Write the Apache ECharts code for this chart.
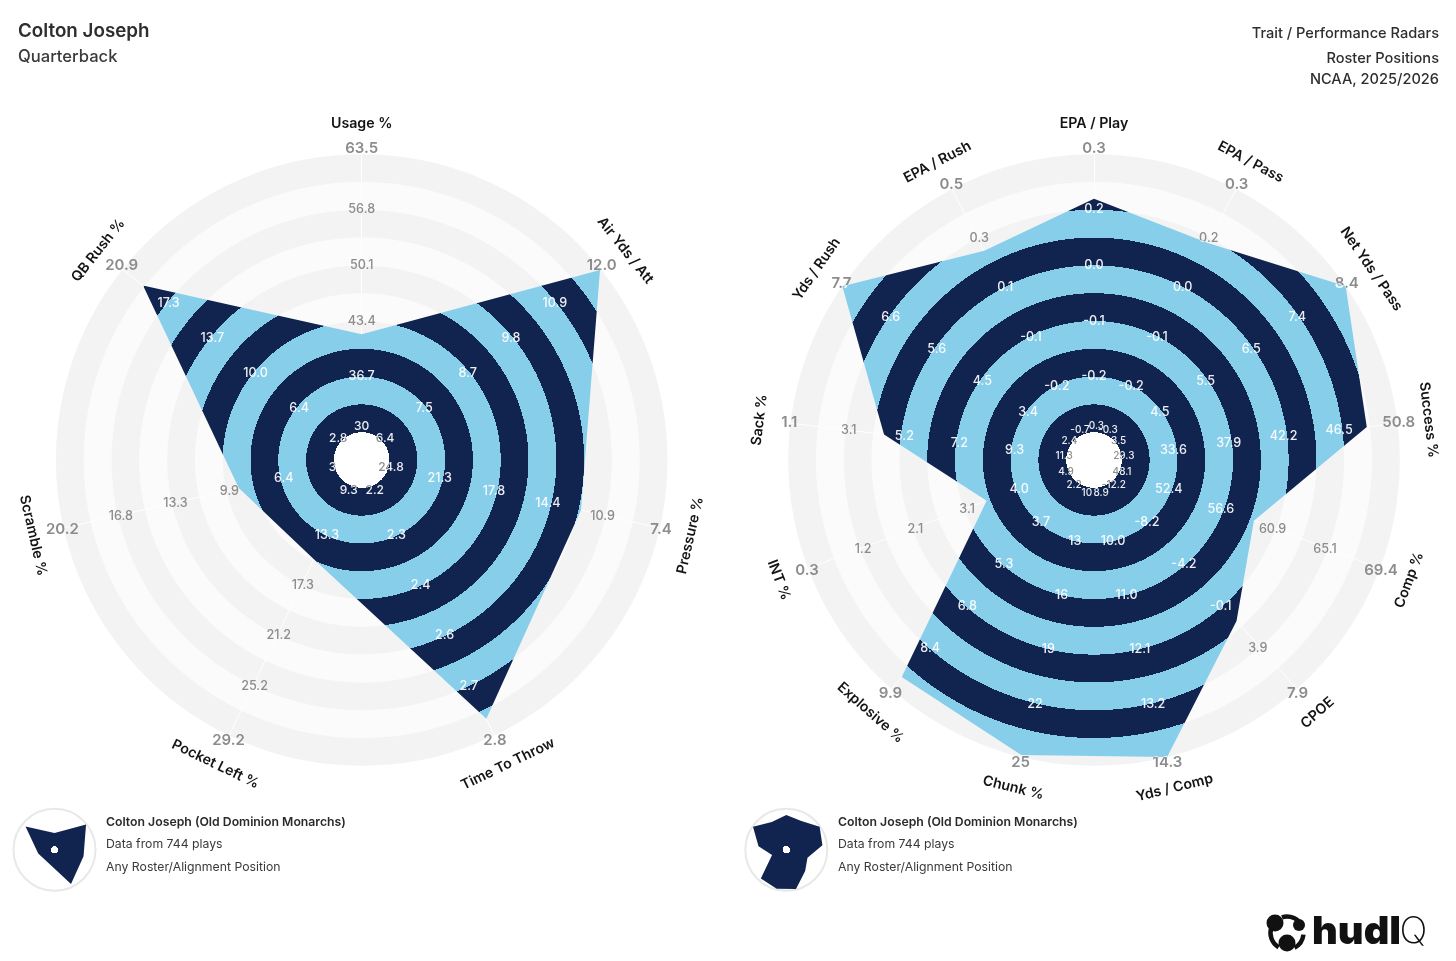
<!DOCTYPE html>
<html><head><meta charset="utf-8">
<style>html,body{margin:0;padding:0;background:#fff}#c{width:1456px;height:961px}</style>
<script src="https://cdn.jsdelivr.net/npm/echarts@6/dist/echarts.min.js"></script>
</head><body><div id="c"></div>
<script>
const leftNames = ['Usage %','Air Yds / Att','Pressure %','Time To Throw','Pocket Left %','Scramble %','QB Rush %'];
const leftTicks = [
  ['30','36.7','43.4','50.1','56.8','63.5'],
  ['6.4','7.5','8.7','9.8','10.9','12.0'],
  ['24.8','21.3','17.8','14.4','10.9','7.4'],
  ['2.2','2.3','2.4','2.6','2.7','2.8'],
  ['9.3','13.3','17.3','21.2','25.2','29.2'],
  ['3','6.4','9.9','13.3','16.8','20.2'],
  ['2.8','6.4','10.0','13.7','17.3','20.9']
];
const leftValues = [41.8, 11.98, 12.46, 2.76, 15.2, 9.08, 19.2];

const rightNames = ['EPA / Play','EPA / Pass','Net Yds / Pass','Success %','Comp %','CPOE','Yds / Comp','Chunk %','Explosive %','INT %','Sack %','Yds / Rush','EPA / Rush'];
const rightTicks = [
  ['-0.3','-0.2','-0.1','0.0','0.2','0.3'],
  ['-0.3','-0.2','-0.1','0.0','0.2','0.3'],
  ['3.5','4.5','5.5','6.5','7.4','8.4'],
  ['29.3','33.6','37.9','42.2','46.5','50.8'],
  ['48.1','52.4','56.6','60.9','65.1','69.4'],
  ['-12.2','-8.2','-4.2','-0.1','3.9','7.9'],
  ['8.9','10.0','11.0','12.1','13.2','14.3'],
  ['10','13','16','19','22','25'],
  ['2.2','3.7','5.3','6.8','8.4','9.9'],
  ['4.9','4.0','3.1','2.1','1.2','0.3'],
  ['11.3','9.3','7.2','5.2','3.1','1.1'],
  ['2.4','3.4','4.5','5.6','6.6','7.7'],
  ['-0.7','-0.2','-0.1','0.1','0.3','0.5']
];
const rightValues = [0.204, 0.169, 8.4, 48.4, 59.07, 1.33, 14.3, 24.9, 9.46, 3.46, 4.56, 7.7, 0.2];

const FONT = 'Inter, "Noto Sans", sans-serif';
const NAVY = '#11244f', SKY = '#87ceeb';
const R0 = 27.8, R = 305.8, CY = 460;
// label radius per ring, horizontal / vertical (text sits slightly off the ring)
const tickRx = [30, 80, 135.7, 191, 247, 307];
const tickRy = [34, 83.5, 139, 195, 251, 311.5];
const ringR = [0,1,2,3,4,5].map(k => R0 + k * (R - R0) / 5);

function bands(hole) {
  const stops = [{offset:0,color:hole},{offset:1/11,color:hole}];
  for (let k = 1; k < 11; k++) {
    const c = k % 2 ? NAVY : SKY;
    stops.push({offset:k/11,color:c},{offset:(k+1)/11,color:c});
  }
  return stops;
}
const norm = (v, t) => { const a = +t[0], b = +t[5]; return (v - a) / (b - a); };
const revOrder = a => [a[0]].concat(a.slice(1).reverse()); // radar runs counter-clockwise

const radar = [], polar = [], series = [];

function panel(names, ticks, values, cx, miniX, k1Size) {
  const n = names.length;
  const norms = values.map((v, i) => norm(v, ticks[i]));
  const radii = norms.map(x => R0 + x * (R - R0));
  const angles = names.map((_, i) => i * 360 / n);

  const rIdx = radar.length;
  const base = {
    startAngle: 90, shape: 'circle',
    indicator: revOrder(names).map(() => ({name: '', min: 0, max: 1})),
    axisName: {show: false}, axisTick: {show: false}, axisLabel: {show: false},
    splitLine: {show: false}
  };
  radar.push(Object.assign({}, base, {
    center: [cx, CY], radius: [R0, R], splitNumber: 10,
    axisLine: {show: true, lineStyle: {color: '#ffffff', width: 1}},
    splitArea: {show: true, areaStyle: {color: ['#fbfbfb', '#f3f3f3']}}
  }));
  radar.push(Object.assign({}, base, {
    center: [miniX, 849.7], radius: [3.7, 40.5], splitNumber: 1,
    axisLine: {show: false}, splitArea: {show: false}
  }));
  series.push({
    type: 'radar', radarIndex: rIdx, z: 2, silent: true, symbol: 'none',
    lineStyle: {width: 0},
    areaStyle: {opacity: 1, color: {type:'radial', x:cx, y:CY, r:R, global:true, colorStops:bands('rgba(255,255,255,0)')}},
    data: [{value: revOrder(norms)}]
  });
  series.push({
    type: 'radar', radarIndex: rIdx + 1, z: 2, silent: true, symbol: 'none',
    lineStyle: {width: 0},
    areaStyle: {opacity: 1, color: {type:'radial', x:miniX, y:849.7, r:40.5,
      global:true, colorStops:[{offset:0,color:'#fff'},{offset:.0914,color:'#fff'},{offset:.0914,color:NAVY},{offset:1,color:NAVY}]}},
    data: [{value: revOrder(norms)}]
  });

  const pIdx = polar.length;
  polar.push({center: [cx, CY], radius: 345});

  const list = [];
  ticks.forEach((t, i) => t.forEach((s, k) => list.push({s, k, i, a: angles[i]})));
  const tickData = list.map(o => [ringR[o.k], o.a]);

  function textEl(api, o, fill) {
    const p = api.coord([ringR[o.k], o.a]);
    const rad = o.a * Math.PI / 180;
    const sin = Math.sin(rad), cos = Math.cos(rad);
    return {
      type: 'text',
      x: p[0] + sin * (tickRx[o.k] - ringR[o.k]),
      y: p[1] - cos * (tickRy[o.k] - ringR[o.k]),
      silent: true,
      style: {
        text: o.s, x: 0, y: 0, align: 'center', verticalAlign: 'middle', fill,
        fontFamily: FONT, fontWeight: o.k === 5 ? 600 : 500,
        fontSize: o.k === 5 ? 15 : (o.k === 0 ? k1Size : 12.6)
      }
    };
  }
  function clipShape(api) {
    const pts = radii.map((r, i) => api.coord([r, angles[i]]).slice(0, 2));
    pts.push(pts[0].slice());
    for (let j = 0; j <= 60; j++) pts.push(api.coord([R0, angles[0] - j * 6]).slice(0, 2));
    pts.push(pts[0].slice());
    return {type: 'polygon', shape: {points: pts}};
  }
  const common = {type: 'custom', coordinateSystem: 'polar', polarIndex: pIdx, silent: true, clip: false,
    encode: {radius: 0, angle: 1}};
  series.push(Object.assign({}, common, {
    z: 1, data: tickData,
    renderItem: (params, api) => textEl(api, list[params.dataIndex], '#8c8c8c')
  }));
  series.push(Object.assign({}, common, {
    z: 3, data: tickData,
    renderItem: (params, api) => ({
      type: 'group', silent: true, clipPath: clipShape(api),
      children: [textEl(api, list[params.dataIndex], 'rgba(255,255,255,0.92)')]
    })
  }));
  series.push(Object.assign({}, common, {
    z: 3, data: names.map((_, i) => [337, angles[i]]),
    renderItem: (params, api) => {
      const i = params.dataIndex, a = angles[i];
      const p = api.coord([337, a]);
      const cw = a <= 90 ? a : (a < 270 ? a - 180 : a - 360);
      return {type: 'text', x: p[0], y: p[1] + 0.5, rotation: -cw * Math.PI / 180, silent: true,
        style: {text: names[i], x: 0, y: 0, align: 'center', verticalAlign: 'middle',
          fill: '#141414', fontFamily: FONT, fontWeight: 600, fontSize: 14.2}};
    }
  }));
}
panel(leftNames, leftTicks, leftValues, 361.7, 54.5, 12);
panel(rightNames, rightTicks, rightValues, 1094, 786.3, 10);

function txt(x, y, text, size, weight, fill, align, scaleX) {
  return {type: 'text', x, y, scaleX: scaleX || 1, silent: true, z: 10, style: {text, x: 0, y: 0, align: align || 'left', verticalAlign: 'middle',
    fontFamily: FONT, fontSize: size, fontWeight: weight, fill}};
}
const graphic = [
  txt(18, 31, 'Colton Joseph', 18.8, 600, '#2e2e2e'),
  txt(18, 56.5, 'Quarterback', 16.6, 500, '#3a3a3a'),
  txt(1439, 34, 'Trait / Performance Radars', 14.6, 500, '#2e2e2e', 'right'),
  txt(1439, 59, 'Roster Positions', 14.6, 500, '#2e2e2e', 'right'),
  txt(1439, 80, 'NCAA, 2025/2026', 14.6, 500, '#2e2e2e', 'right')
];
[[54.5, 106], [786.3, 838]].forEach(([mx, tx]) => {
  graphic.push({type: 'circle', z: 0, silent: true, shape: {cx: mx, cy: 849.7, r: 41}, style: {fill: '#fff', stroke: '#e8e8e8', lineWidth: 2}});
  graphic.push(txt(tx, 822, 'Colton Joseph (Old Dominion Monarchs)', 12.25, 600, '#2a2a2a'));
  graphic.push(txt(tx, 844.5, 'Data from 744 plays', 12.25, 400, '#3a3a3a'));
  graphic.push(txt(tx, 867, 'Any Roster/Alignment Position', 12.25, 400, '#3a3a3a'));
});
// wordmark
const INK = '#111111';
[[1275, 923, 8.5], [1299, 925, 6], [1287, 943, 8.5]].forEach(([cx, cy, r]) => {
  graphic.push({type: 'circle', z: 10, silent: true, shape: {cx, cy, r}, style: {fill: INK}});
});
[[2.1, 3.5], [4.4, 5.9], [0.1, 1.1]].forEach(([s, e]) => {
  graphic.push({type: 'arc', z: 10, silent: true, shape: {cx: 1287, cy: 933, r: 16.5, startAngle: s, endAngle: e},
    style: {stroke: INK, fill: 'none', lineWidth: 4.5}});
});
graphic.push(txt(1312, 932, 'hudl', 39, 900, INK, 'left', 1.02));
graphic.push(txt(1390, 932, 'IQ', 37, 200, INK));

const chart = echarts.init(document.getElementById('c'), null, {renderer: 'canvas'});
chart.setOption({
  animation: false, backgroundColor: '#fff', tooltip: {show: false},
  radar,
  polar,
  angleAxis: polar.map((_, i) => ({polarIndex: i, type: 'value', min: 0, max: 360, startAngle: 90, clockwise: true, show: false})),
  radiusAxis: polar.map((_, i) => ({polarIndex: i, type: 'value', min: 0, max: 345, show: false})),
  graphic: {elements: graphic},
  series
});
</script></body></html>
